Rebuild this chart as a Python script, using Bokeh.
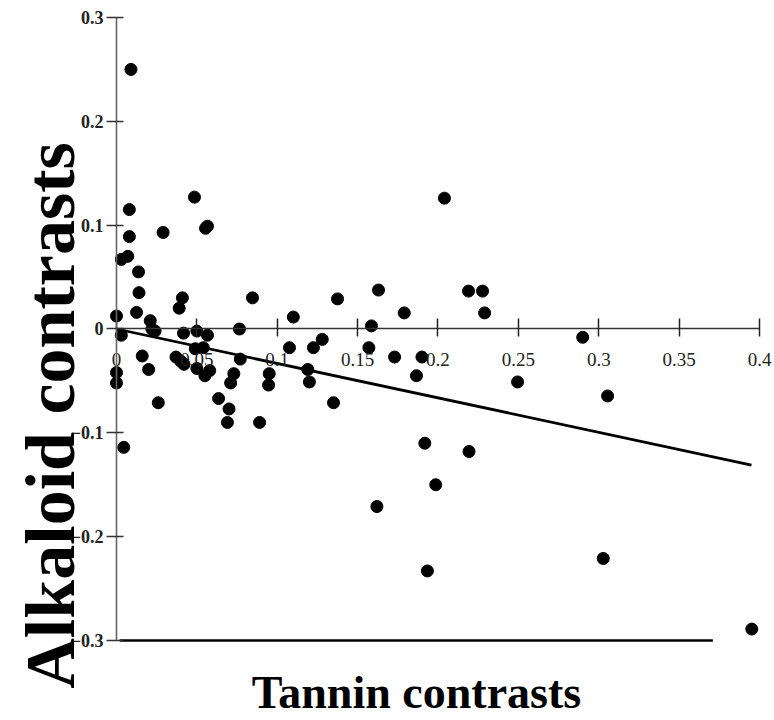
import math
from bokeh.plotting import figure
from bokeh.models import LinearAxis, FixedTicker, Range1d, Label
from bokeh.embed import file_html
from bokeh.resources import INLINE

# ---- data ----
tannin = [0.009, 0.008, 0.008, 0.003, 0.007, 0.0137, 0.014, 0.0125, 0.0, 0.021,
          0.022, 0.024, 0.003, 0.016, 0.020, 0.0, 0.0, 0.026, 0.0045, 0.029,
          0.0485, 0.0554, 0.0566, 0.041, 0.039, 0.0417, 0.050, 0.0566, 0.0765, 0.0846,
          0.110, 0.1375, 0.037, 0.040, 0.042, 0.049, 0.054, 0.050, 0.055, 0.058,
          0.0635, 0.070, 0.069, 0.077, 0.073, 0.071, 0.1076, 0.1225, 0.128, 0.095,
          0.0946, 0.119, 0.120, 0.135, 0.089, 0.163, 0.179, 0.1586, 0.157, 0.173,
          0.190, 0.1866, 0.219, 0.2277, 0.229, 0.204, 0.2495, 0.290, 0.3055, 0.1918,
          0.2193, 0.1986, 0.162, 0.1934, 0.3028, 0.3952]
alkaloid = [0.250, 0.115, 0.089, 0.067, 0.070, 0.055, 0.035, 0.016, 0.0125, 0.008,
            0.0, -0.002, -0.006, -0.026, -0.039, -0.042, -0.052, -0.071, -0.114, 0.093,
            0.127, 0.097, 0.099, 0.030, 0.020, -0.004, -0.002, -0.006, 0.0, 0.030,
            0.0115, 0.029, -0.027, -0.031, -0.034, -0.019, -0.018, -0.038, -0.045, -0.040,
            -0.067, -0.077, -0.090, -0.029, -0.043, -0.052, -0.018, -0.018, -0.010, -0.043,
            -0.054, -0.039, -0.051, -0.071, -0.090, 0.0375, 0.0155, 0.003, -0.018, -0.027,
            -0.027, -0.045, 0.0365, 0.0365, 0.0155, 0.126, -0.051, -0.008, -0.0645, -0.110,
            -0.118, -0.150, -0.171, -0.233, -0.221, -0.289]

x_ticks = [0.0, 0.05, 0.1, 0.15, 0.2, 0.25, 0.3, 0.35, 0.4]
x_tick_labels = ["0", "0.05", "0.1", "0.15", "0.2", "0.25", "0.3", "0.35", "0.4"]
y_ticks = [-0.3, -0.2, -0.1, 0.0, 0.1, 0.2, 0.3]
y_tick_labels = ["\u22120.3", "\u22120.2", "\u22120.1", "0", "0.1", "0.2", "0.3"]

fit_x = [0.0, 0.395]
fit_y = [0.0, -0.131]
floor_x = [0.002, 0.371]

x_title = "Tannin contrasts"
y_title = "Alkaloid contrasts"

# ---- figure ----
W, H = 774, 720
p = figure(width=W, height=H, output_backend="svg", toolbar_location=None,
           title=None, x_axis_type=None, y_axis_type=None, min_border=0,
           x_range=Range1d(-0.07216, 0.40933), y_range=Range1d(-0.37705, 0.31637))
p.outline_line_color = None
p.background_fill_color = "white"
p.border_fill_color = "white"

SERIF = "Liberation Serif"

yax = LinearAxis(fixed_location=0, ticker=FixedTicker(ticks=y_ticks),
                 bounds=(y_ticks[0], y_ticks[-1]),
                 major_label_overrides=dict(zip(y_ticks, y_tick_labels)))
yax.axis_line_color = "#666666"
yax.axis_line_width = 1.6
yax.major_tick_in = 7
yax.major_tick_out = 10
yax.major_tick_line_color = "#333333"
yax.major_tick_line_width = 1.5
yax.minor_tick_line_color = None
yax.major_label_standoff = 3
yax.major_label_text_font = SERIF
yax.major_label_text_font_size = "18px"
yax.major_label_text_font_style = "bold"
yax.major_label_text_color = "#222222"
p.add_layout(yax, "left")

xax = LinearAxis(fixed_location=0, ticker=FixedTicker(ticks=x_ticks),
                 bounds=(x_ticks[0], x_ticks[-1]),
                 major_label_overrides=dict(zip(x_ticks, x_tick_labels)))
xax.axis_line_color = "#333333"
xax.axis_line_width = 1.5
xax.major_tick_in = 10
xax.major_tick_out = 8
xax.major_tick_line_color = "#222222"
xax.major_tick_line_width = 1.5
xax.minor_tick_line_color = None
xax.major_label_standoff = 16
xax.major_label_text_font = SERIF
xax.major_label_text_font_size = "19px"
xax.major_label_text_color = "#222222"
p.add_layout(xax, "below")

# bottom rule at the lowest y tick
p.line(floor_x, [y_ticks[0], y_ticks[0]], line_width=2.6, line_color="black")

# regression line
p.line(fit_x, fit_y, line_width=2.8, line_color="black")

# data points
p.scatter(tannin, alkaloid, size=12, fill_color="black", line_color="black")

p.add_layout(Label(x=50, y=305, x_units="screen", y_units="screen", text=y_title,
                   angle=math.pi / 2, text_align="center", text_baseline="middle",
                   text_font=SERIF, text_font_style="bold", text_font_size="70px",
                   text_color="black"))
p.add_layout(Label(x=416, y=28, x_units="screen", y_units="screen", text=x_title,
                   text_align="center", text_baseline="alphabetic",
                   text_font=SERIF, text_font_style="bold", text_font_size="46px",
                   text_color="black"))

open("out.html", "w").write(file_html(p, INLINE))
